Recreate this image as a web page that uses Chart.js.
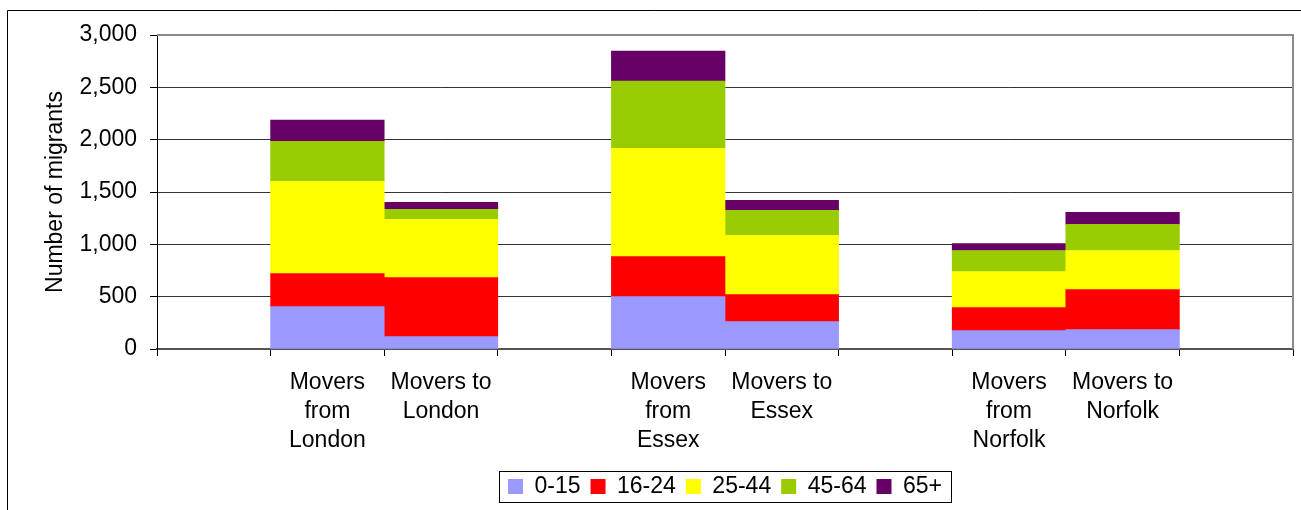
<!DOCTYPE html>
<html>
<head>
<meta charset="utf-8">
<script src="https://cdn.jsdelivr.net/npm/chart.js@4"></script>
<style>
html,body{margin:0;padding:0;background:#fff;}
#wrap{width:1301px;height:510px;position:relative;}
</style>
</head>
<body>
<div id="wrap"><canvas id="c" width="1301" height="510"></canvas></div>
<script>
const categories = ['', ['Movers','from','London'], ['Movers to','London'], '', ['Movers','from','Essex'], ['Movers to','Essex'], '', ['Movers','from','Norfolk'], ['Movers to','Norfolk'], ''];
const seriesNames = ['0-15','16-24','25-44','45-64','65+'];
const age0_15  = [null, 405, 118, null,  501, 261, null, 175, 185, null];
const age16_24 = [null, 316, 565, null,  383, 259, null, 220, 383, null];
const age25_44 = [null, 881, 555, null, 1034, 565, null, 345, 373, null];
const age45_64 = [null, 383,  96, null,  642, 239, null, 201, 249, null];
const age65    = [null, 201,  67, null,  287,  96, null,  67, 115, null];
const yTicks = [0, 500, 1000, 1500, 2000, 2500, 3000];
const colors = ['#9999FF','#FF0000','#FFFF00','#99CC00','#660066'];

const FONT = 'Liberation Sans, Arial, sans-serif';

const decor = {
  id: 'decor',
  beforeDraw(chart) {
    const ctx = chart.ctx;
    ctx.save();
    ctx.fillStyle = '#fff';
    ctx.fillRect(0, 0, chart.width, chart.height);
    ctx.strokeStyle = '#000';
    ctx.lineWidth = 1;
    ctx.beginPath();
    ctx.moveTo(7.5, chart.height + 5);
    ctx.lineTo(7.5, 10.5);
    ctx.lineTo(chart.width + 5, 10.5);
    ctx.stroke();
    ctx.restore();
  },
  afterDraw(chart) {
    const ctx = chart.ctx;
    const a = chart.chartArea;
    ctx.save();
    ctx.strokeStyle = '#8a8a8a';
    ctx.lineWidth = 2;
    ctx.beginPath();
    ctx.moveTo(a.left, a.top);
    ctx.lineTo(a.right, a.top);
    ctx.lineTo(a.right, a.bottom);
    ctx.stroke();
    const lg = chart.legend;
    if (lg && lg.legendHitBoxes && lg.legendHitBoxes.length) {
      const hb = lg.legendHitBoxes;
      let l = Infinity, r = -Infinity, t = Infinity, b = -Infinity;
      hb.forEach(h => { l = Math.min(l, h.left); r = Math.max(r, h.left + h.width); t = Math.min(t, h.top); b = Math.max(b, h.top + h.height); });
      ctx.strokeStyle = '#000';
      ctx.lineWidth = 1;
      ctx.strokeRect(Math.round(l - 9) + 0.5, Math.round(t - 4) + 0.5, Math.round(r - l + 18), Math.round(b - t + 8));
    }
    ctx.restore();
  }
};

new Chart(document.getElementById('c'), {
  type: 'bar',
  data: {
    labels: categories,
    datasets: [age0_15, age16_24, age25_44, age45_64, age65].map((d, i) => ({
      label: seriesNames[i],
      data: d,
      backgroundColor: colors[i],
      borderWidth: 0,
      barPercentage: 1.0,
      categoryPercentage: 1.0
    }))
  },
  options: {
    responsive: false,
    animation: false,
    events: [],
    layout: { padding: { left: 30, right: 8, top: 35, bottom: 2 } },
    plugins: {
      tooltip: { enabled: false },
      legend: {
        position: 'bottom',
        fullSize: false,
        labels: {
          color: '#000',
          font: { family: FONT, size: 23 },
          boxWidth: 15,
          boxHeight: 15,
          padding: 10
        }
      }
    },
    scales: {
      x: {
        stacked: true,
        offset: true,
        grid: { offset: true, drawOnChartArea: false, drawTicks: true, tickLength: 7, color: '#000', tickColor: '#000' },
        border: { color: '#555', width: 2 },
        ticks: {
          color: '#000', autoSkip: false, maxRotation: 0, minRotation: 0, padding: 12,
          font: { family: FONT, size: 23, lineHeight: 1.27 }
        },
        afterFit(s) { s.height = 116; }
      },
      y: {
        stacked: true,
        min: 0,
        max: 3000,
        afterBuildTicks(s) { s.ticks = yTicks.map(v => ({ value: v })); },
        grid: { color: '#333', lineWidth: 1, drawTicks: true, tickLength: 7, tickColor: '#000' },
        border: { color: '#000', width: 1 },
        ticks: {
          color: '#000', padding: 13,
          font: { family: FONT, size: 23 },
          callback: v => Number(v).toLocaleString('en-US')
        },
        title: {
          display: true, text: 'Number of migrants', color: '#000',
          font: { family: FONT, size: 23 },
          padding: { top: 12, bottom: 0 }
        },
        afterFit(s) { s.width = 127; }
      }
    }
  },
  plugins: [decor]
});
</script>
</body>
</html>
